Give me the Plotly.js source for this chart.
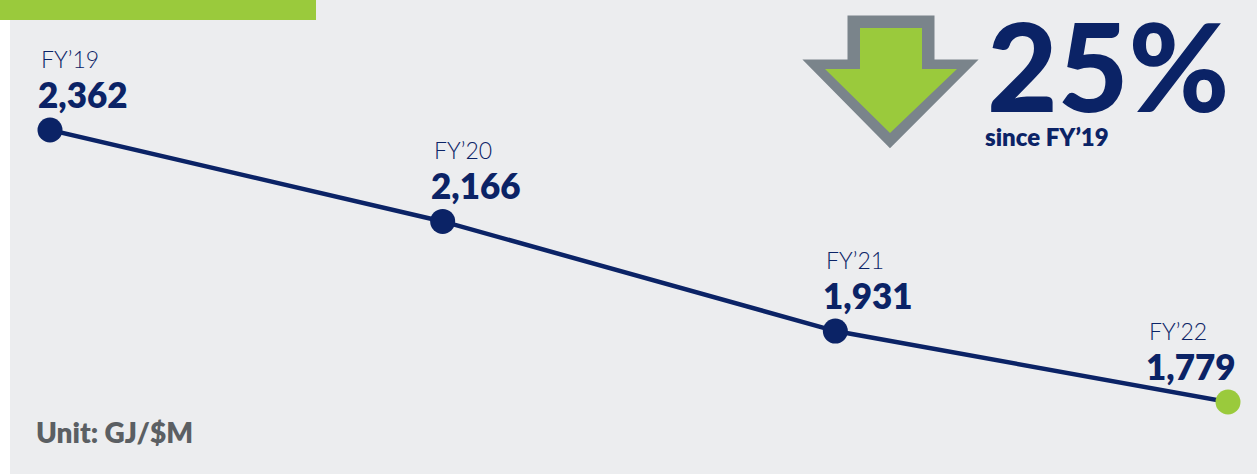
<!DOCTYPE html>
<html>
<head>
<meta charset="utf-8">
<script src="https://cdn.plot.ly/plotly-3.0.1.min.js"></script>
<style>
  html, body { margin: 0; padding: 0; background: #ffffff; }
  #chart { width: 1257px; height: 474px; }
</style>
</head>
<body>
<div id="chart"></div>
<script>
// ---- data ----
const categories = ['FY’19', 'FY’20', 'FY’21', 'FY’22'];
const values = [2362, 2166, 1931, 1779];
const valueLabels = ['2,362', '2,166', '1,931', '1,779'];
const headline = '25%';
const headlineSub = 'since FY’19';
const unitLabel = 'Unit: GJ/$M';

// ---- style ----
const NAVY = '#0b2366';
const GREEN = '#9aca3c';
const BG = '#ecedef';
const ARROW_GRAY = '#7a848b';
const FONT = 'Lato, "Open Sans", sans-serif';

const W = 1257, H = 474;
const M = { l: 50, r: 29, t: 130, b: 72 };
const PW = W - M.l - M.r, PH = H - M.t - M.b;
const px = x => (x - M.l) / PW;            // pixel -> paper x
const py = y => 1 - (y - M.t) / PH;        // pixel -> paper y

const markerColors = values.map((v, i) => i === values.length - 1 ? GREEN : NAVY);

const trace = {
  x: categories,
  y: values,
  type: 'scatter',
  mode: 'lines+markers',
  line: { color: NAVY, width: 4.5 },
  marker: { size: 25, color: markerColors, line: { width: 0 } },
  cliponaxis: false,
  hoverinfo: 'skip'
};

const annotations = [];
categories.forEach((c, i) => {
  const last = i === categories.length - 1;
  annotations.push({
    x: c, y: values[i], xref: 'x', yref: 'y',
    text: c, showarrow: false,
    xanchor: 'left', yanchor: 'middle',
    xshift: last ? -81 : -11, yshift: 71,
    font: { family: FONT, size: 23, color: NAVY, weight: 300 }
  });
  annotations.push({
    x: c, y: values[i], xref: 'x', yref: 'y',
    text: valueLabels[i], showarrow: false,
    xanchor: 'left', yanchor: 'middle',
    xshift: last ? -84 : -14, yshift: 36,
    font: { family: FONT, size: 35, color: NAVY, weight: 800 }
  });
});

annotations.push({
  xref: 'paper', yref: 'paper', x: px(985), y: py(65),
  xanchor: 'left', yanchor: 'middle', showarrow: false,
  height: 110, valign: 'middle',
  text: headline,
  font: { family: FONT, size: 122, color: NAVY, weight: 900 }
});
annotations.push({
  xref: 'paper', yref: 'paper', x: px(983), y: py(136),
  xanchor: 'left', yanchor: 'middle', showarrow: false,
  text: headlineSub,
  font: { family: FONT, size: 24, color: NAVY, weight: 800 }
});
annotations.push({
  xref: 'paper', yref: 'paper', x: px(34), y: py(432),
  xanchor: 'left', yanchor: 'middle', showarrow: false,
  text: unitLabel,
  font: { family: FONT, size: 28, color: '#5b5f63', weight: 800 }
});

function poly(pts) {
  return 'M ' + pts.map(p => px(p[0]) + ',' + py(p[1])).join(' L ') + ' Z';
}

const shapes = [
  // white strip on left edge
  { type: 'rect', xref: 'paper', yref: 'paper', x0: px(0), x1: px(10), y0: py(H), y1: py(0),
    fillcolor: '#ffffff', line: { width: 0 }, layer: 'below' },
  // green header bar
  { type: 'rect', xref: 'paper', yref: 'paper', x0: px(0), x1: px(316), y0: py(20), y1: py(0),
    fillcolor: GREEN, line: { width: 0 }, layer: 'below' },
  // arrow outline
  { type: 'path', xref: 'paper', yref: 'paper',
    path: poly([[849,17],[933,17],[933,61],[975,61],[890,146],[806,61],[849,61]]),
    fillcolor: ARROW_GRAY, line: { color: ARROW_GRAY, width: 3 }, layer: 'below' },
  // arrow fill
  { type: 'path', xref: 'paper', yref: 'paper',
    path: poly([[860,28],[922,28],[922,69],[957,69],[890,133],[825,69],[860,69]]),
    fillcolor: GREEN, line: { width: 0 }, layer: 'below' }
];

const layout = {
  width: W, height: H,
  margin: M,
  paper_bgcolor: BG,
  plot_bgcolor: 'rgba(0,0,0,0)',
  showlegend: false,
  xaxis: { type: 'category', range: [0, categories.length - 1], visible: false, fixedrange: true },
  yaxis: { range: [Math.min(...values), Math.max(...values)], visible: false, fixedrange: true },
  annotations: annotations,
  shapes: shapes
};

Plotly.newPlot('chart', [trace], layout, { displayModeBar: false, staticPlot: true });
</script>
</body>
</html>
